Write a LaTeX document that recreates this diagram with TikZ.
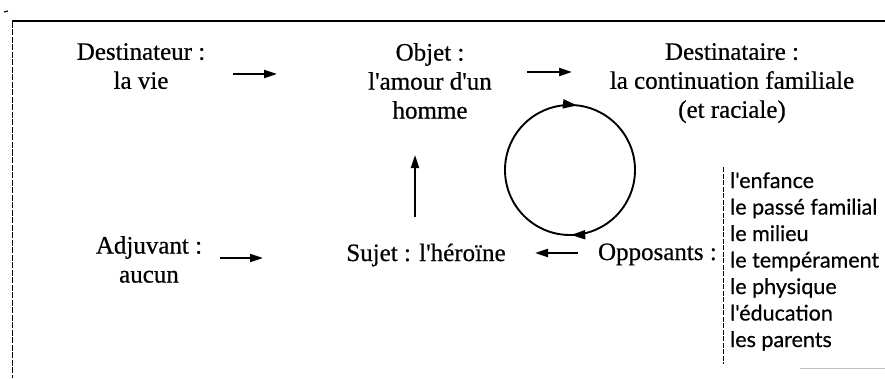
\documentclass[tikz,border=0pt]{standalone}
\usepackage{fontspec}
\setmainfont{Liberation Serif}[FakeBold=0.6]
\newfontfamily\scanfont{Liberation Serif}[FakeBold=0.6]
\newfontfamily\listfont{Lato}[FakeBold=0.5]
\usepackage{tikz}
\usetikzlibrary{arrows.meta,positioning,decorations.markings}

\tikzset{
  actant/.style={align=center,inner sep=0pt,font=\scanfont\fontsize{25}{29}\selectfont},
  arr/.style={-{Triangle[length=13pt,width=8pt]},line width=2pt},
  ringline/.style={line width=1.9pt,postaction={decorate},
    decoration={markings,
      mark=at position 0.247 with {\arrow{Triangle[length=14pt,width=9pt]}},
      mark=at position 0.767 with {\arrow{Triangle[length=14pt,width=9pt]}}}},
}

\begin{document}
\begin{tikzpicture}[x=1pt,y=1pt]
  \useasboundingbox (0,0) rectangle (885,378);

  % frame
  \draw[line width=1.5pt] (12,357) -- (885,357);
  \draw[line width=0.8pt,dash pattern=on 6pt off 1.5pt] (12,356) -- (12,0);
  \draw[line width=1.2pt] (4,366) -- (8,367);
  \draw[line width=1pt,black!25] (800,10) -- (885,10);

  % top row
  \node[actant,anchor=north] (dest) at (141,335) {Destinateur :\\la vie};
  \node[actant,anchor=north] (objet) at (430,335) {Objet :\\l'amour d'un\\homme};
  \node[actant,anchor=north] (destre) at (732,335) {Destinataire :\\la continuation familiale\\(et raciale)};

  % bottom row
  \node[actant,anchor=north] (adj) at (149,142) {Adjuvant :\\aucun};
  \node[actant,anchor=base] (sujet) at (426,117) {Sujet : l'héroïne};
  \node[actant,anchor=base east] (opp) at (717,118) {Opposants :};
  \node[anchor=north west,inner sep=0pt,align=left,
        font=\listfont\fontsize{21.5}{26.5}\selectfont] (liste) at (730,206)
        {l'enfance\\le passé familial\\le milieu\\le tempérament\\le physique\\l'éducation\\les parents};
  \coordinate (brtop) at (723,211);
  \coordinate (brbot) at (723,14);
  \draw[line width=0.8pt,dash pattern=on 5pt off 1.5pt] (brtop) -- (brbot);

  % arrows
  \coordinate (a1s) at (233,304); \coordinate (a1e) at (277,304);
  \coordinate (a2s) at (527,306); \coordinate (a2e) at (572,306);
  \coordinate (a3s) at (220,120); \coordinate (a3e) at (263,120);
  \coordinate (a4s) at (578,125); \coordinate (a4e) at (535,125);
  \coordinate (a5s) at (415,161); \coordinate (a5e) at (415,223);
  \draw[arr] (a1s) -- (a1e);
  \draw[arr] (a2s) -- (a2e);
  \draw[arr] (a3s) -- (a3e);
  \draw[arr] (a4s) -- (a4e);
  \draw[arr] (a5s) -- (a5e);

  % cycle
  \coordinate (ringc) at (570,208);
  \draw[ringline] ([xshift=65pt]ringc) arc[start angle=0,end angle=-360,radius=65pt];
\end{tikzpicture}
\end{document}
